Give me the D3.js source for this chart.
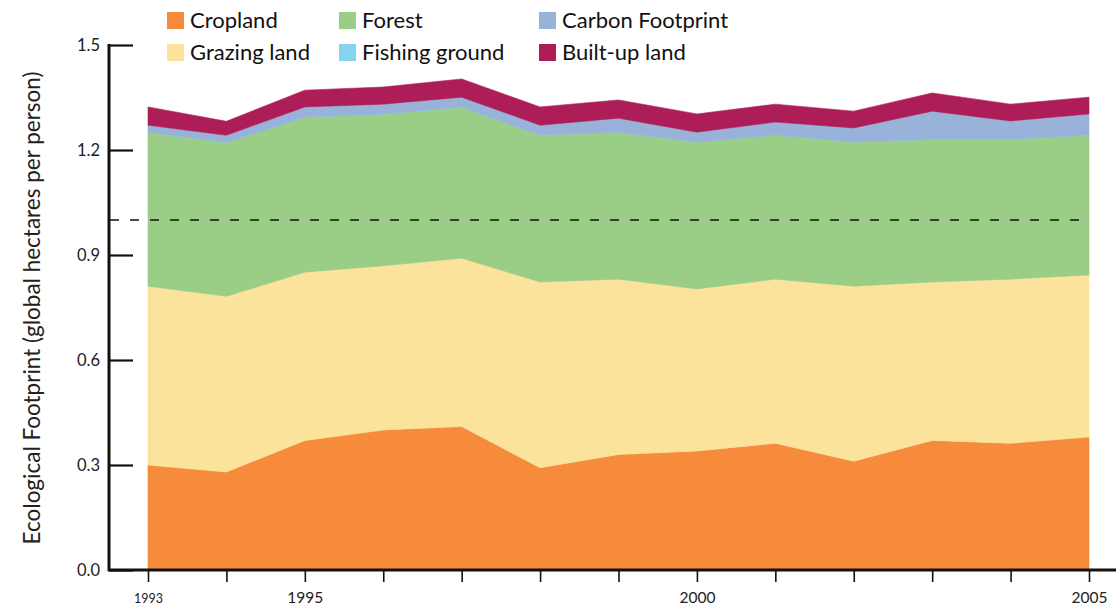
<!DOCTYPE html>
<html>
<head>
<meta charset="utf-8">
<script src="https://cdn.jsdelivr.net/npm/d3@7"></script>
<style>
  html, body { margin: 0; padding: 0; background: #fff; }
  svg { display: block; font-family: Lato, "Open Sans", sans-serif; }
</style>
</head>
<body>
<svg id="chart" width="1116" height="609"></svg>
<script>
const years = [1993,1994,1995,1996,1997,1998,1999,2000,2001,2002,2003,2004,2005];
const seriesNames = ["Cropland","Grazing land","Forest","Fishing ground","Carbon Footprint","Built-up land"];
const cropland = [0.300,0.280,0.370,0.400,0.410,0.292,0.330,0.340,0.362,0.311,0.370,0.362,0.380];
const grazing  = [0.511,0.502,0.481,0.469,0.481,0.531,0.501,0.463,0.469,0.500,0.453,0.469,0.463];
const forest   = [0.440,0.440,0.443,0.434,0.432,0.420,0.420,0.420,0.412,0.412,0.408,0.400,0.400];
const fishing  = [0,0,0,0,0,0,0,0,0,0,0,0,0];
const carbon   = [0.020,0.020,0.029,0.028,0.028,0.028,0.040,0.028,0.037,0.040,0.080,0.052,0.060];
const builtup  = [0.052,0.040,0.048,0.049,0.052,0.052,0.052,0.052,0.051,0.048,0.052,0.048,0.048];
const yTicks = [0.0,0.3,0.6,0.9,1.2,1.5];
const xTickLabels = {1993:"1993",1995:"1995",2000:"2000",2005:"2005"};
const colors = ["#F58B3B","#FCE39B","#9ACD86","#86D3EF","#98B2DA","#AD1E59"];
const threshold = 1.0;

const svg = d3.select("#chart");
const x = d3.scaleLinear().domain([1993,2005]).range([148,1089]);
const y = d3.scaleLinear().domain([0,1.5]).range([570,45]);

const values = [cropland, grazing, forest, fishing, carbon, builtup];
const table = years.map((yr,i) => {
  const row = {year: yr};
  seriesNames.forEach((n,k) => row[n] = values[k][i]);
  return row;
});
const stack = d3.stack().keys(seriesNames)(table);
const area = d3.area().x(d => x(d.data.year)).y0(d => y(d[0])).y1(d => y(d[1]));

svg.append("g").selectAll("path").data(stack).join("path")
  .attr("d", area)
  .attr("fill", (d,i) => colors[i])
  .attr("stroke", (d,i) => colors[i])
  .attr("stroke-width", 0.6);

// threshold dashed line
svg.append("line")
  .attr("x1", 110).attr("x2", 1083)
  .attr("y1", y(threshold)).attr("y2", y(threshold))
  .attr("stroke", "#111").attr("stroke-width", 1.4)
  .attr("stroke-dasharray", "9,11");

// Y axis
const yAxis = d3.axisRight(y).tickValues(yTicks).tickSize(24).tickFormat(d3.format(".1f"));
const gy = svg.append("g").attr("transform", "translate(109,0)").call(yAxis);
gy.select(".domain").remove();
gy.selectAll(".tick line").attr("stroke", "#111").attr("stroke-width", 2.2);
gy.selectAll(".tick text").attr("x", -9).attr("text-anchor", "end")
  .attr("font-size", 16.5).attr("fill", "#222").attr("font-family", "Lato, sans-serif");
svg.append("line").attr("x1",109).attr("x2",109).attr("y1",y(1.5)-1).attr("y2",571)
  .attr("stroke","#111").attr("stroke-width",3);

// X axis
const xAxis = d3.axisBottom(x).tickValues(years).tickSize(12)
  .tickFormat(d => xTickLabels[d] || "");
const gx = svg.append("g").attr("transform", "translate(0,570)").call(xAxis);
gx.select(".domain").remove();
gx.selectAll(".tick line").attr("stroke", "#111").attr("stroke-width", 1.6);
gx.selectAll(".tick text").attr("y", d => d === 1993 ? 24 : 22)
  .attr("font-size", d => d === 1993 ? 12.5 : 15.5).attr("fill", "#222")
  .attr("font-family", "Lato, sans-serif");
svg.append("line").attr("x1",108).attr("x2",1116).attr("y1",570).attr("y2",570)
  .attr("stroke","#111").attr("stroke-width",3.2);

// Y title
svg.append("text")
  .attr("transform", "translate(40,308) rotate(-90)")
  .attr("text-anchor", "middle")
  .attr("font-size", 22.5).attr("fill", "#222")
  .text("Ecological Footprint (global hectares per person)");

// Legend
const legendPos = [[167,12],[167,44],[339,12],[339,44],[539,12],[539,44]];
const legendOrder = [0,1,2,3,4,5];
const lg = svg.append("g");
legendOrder.forEach((k,i) => {
  const [lx,ly] = legendPos[i];
  lg.append("rect").attr("x",lx).attr("y",ly).attr("width",17).attr("height",17).attr("fill",colors[k]);
  lg.append("text").attr("x",lx+23).attr("y",ly+16).attr("font-size",22).attr("fill","#111")
    .text(seriesNames[k]);
});
</script>
</body>
</html>
